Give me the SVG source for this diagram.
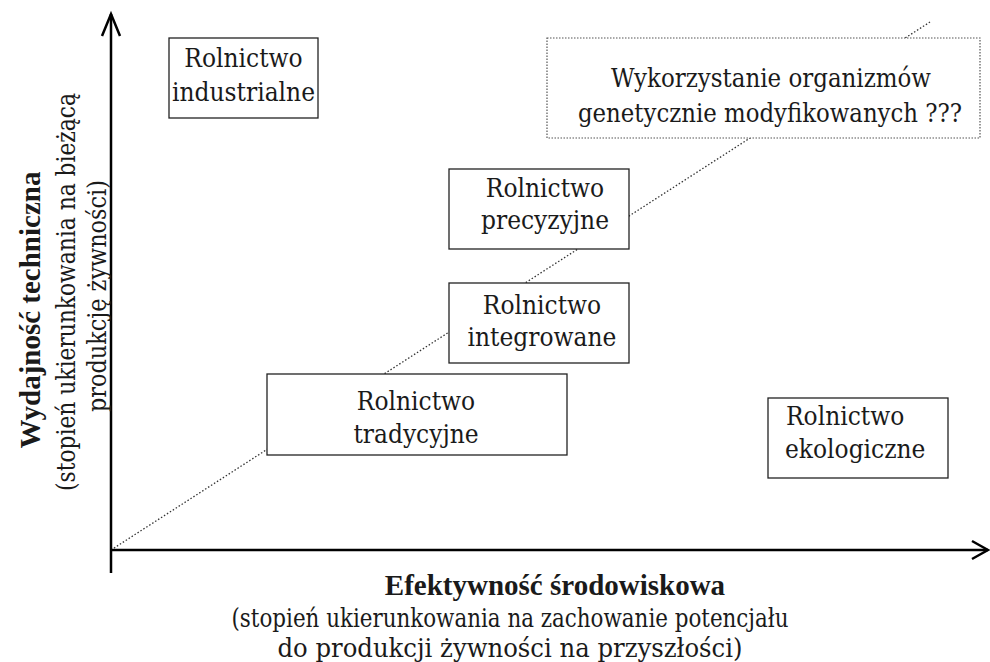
<svg xmlns="http://www.w3.org/2000/svg" width="990" height="662" viewBox="0 0 990 662">
<style>
.box{fill:#fff;stroke:#222;stroke-width:1.3}
.dbox{fill:#fff;stroke:#555;stroke-width:1.2;stroke-dasharray:1.5 1.5}
.t{font-family:"DejaVu Serif Condensed","DejaVu Serif",serif;font-size:26px;fill:#1a1a1a}
.b{font-family:"Liberation Serif","Times New Roman",serif;font-size:29px;font-weight:bold;fill:#1a1a1a}
.axis{stroke:#000;stroke-width:2.5;fill:none}
.diag{stroke:#333;stroke-width:1.3;stroke-dasharray:1.5 2;fill:none}
</style>
<rect width="990" height="662" fill="#fff"/>
<g id="connectors">
<line class="diag" x1="111" y1="550" x2="930" y2="22"/>
<line class="axis" x1="111" y1="14" x2="111" y2="573"/>
<line class="axis" x1="111" y1="550" x2="988" y2="550"/>
<polyline class="axis" points="102,36 111,14 120,36"/>
<polyline class="axis" points="972,541 988,550 972,559"/>
</g>
<g id="n-industrialne">
<rect class="box" x="169" y="38" width="149" height="80"/>
<text class="t" x="243.5" y="67" text-anchor="middle">Rolnictwo</text>
<text class="t" x="243.5" y="101" text-anchor="middle">industrialne</text>
</g>
<g id="n-gmo">
<rect class="dbox" x="547" y="38" width="433" height="100"/>
<text class="t" x="771" y="87" text-anchor="middle" textLength="320" lengthAdjust="spacingAndGlyphs">Wykorzystanie organizmów</text>
<text class="t" x="770" y="122" text-anchor="middle" textLength="384" lengthAdjust="spacingAndGlyphs">genetycznie modyfikowanych ???</text>
</g>
<g id="n-precyzyjne">
<rect class="box" x="449" y="169" width="180" height="80"/>
<text class="t" x="545" y="197" text-anchor="middle">Rolnictwo</text>
<text class="t" x="545" y="229" text-anchor="middle">precyzyjne</text>
</g>
<g id="n-integrowane">
<rect class="box" x="449" y="283" width="180" height="80"/>
<text class="t" x="542" y="314" text-anchor="middle">Rolnictwo</text>
<text class="t" x="542" y="346" text-anchor="middle">integrowane</text>
</g>
<g id="n-tradycyjne">
<rect class="box" x="267" y="374" width="300" height="81"/>
<text class="t" x="416" y="410" text-anchor="middle">Rolnictwo</text>
<text class="t" x="416" y="443" text-anchor="middle">tradycyjne</text>
</g>
<g id="n-ekologiczne">
<rect class="box" x="768" y="398" width="180" height="80"/>
<text class="t" x="786" y="425">Rolnictwo</text>
<text class="t" x="785" y="458">ekologiczne</text>
</g>
<g id="x-label">
<text class="b" x="555" y="595" text-anchor="middle">Efektywność środowiskowa</text>
<text class="t" x="510" y="627" text-anchor="middle" textLength="557" lengthAdjust="spacingAndGlyphs">(stopień ukierunkowania na zachowanie potencjału</text>
<text class="t" x="510" y="657" text-anchor="middle" textLength="465" lengthAdjust="spacingAndGlyphs">do produkcji żywności na przyszłości)</text>
</g>
<g id="y-label">
<text class="b" transform="translate(40,310) rotate(-90)" text-anchor="middle">Wydajność techniczna</text>
<text class="t" transform="translate(75,292) rotate(-90)" text-anchor="middle" textLength="398" lengthAdjust="spacingAndGlyphs">(stopień ukierunkowania na bieżącą</text>
<text class="t" transform="translate(106,296) rotate(-90)" text-anchor="middle" textLength="232" lengthAdjust="spacingAndGlyphs">produkcję żywności)</text>
</g>
</svg>
